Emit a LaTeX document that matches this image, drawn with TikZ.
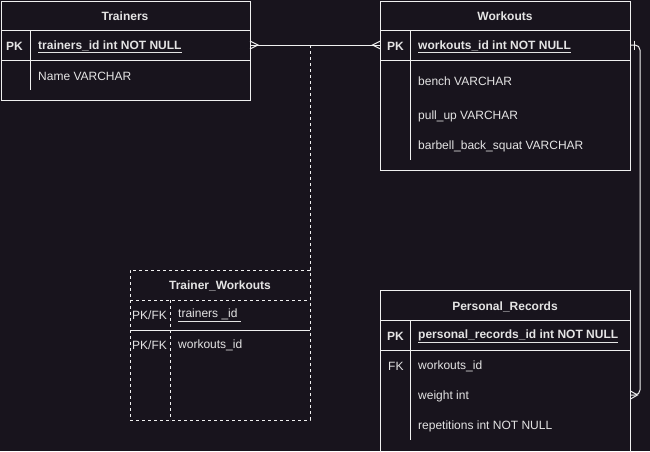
\documentclass[tikz,border=0pt]{standalone}
\usepackage{fontspec}
\setmainfont{Liberation Sans}
\definecolor{bg}{HTML}{18141D}
\definecolor{linec}{HTML}{F0F0F0}
\definecolor{txt}{HTML}{E4E4E4}
\begin{document}
\begin{tikzpicture}[x=1pt,y=-1pt,
  tbl/.style={draw=linec, line width=1pt, inner sep=0pt, outer sep=0pt, anchor=north west},
  rowbox/.style={inner sep=0pt, outer sep=0pt, anchor=north west, minimum height=30pt},
  lbl/.style={text=txt, inner sep=0pt, anchor=west, font=\fontsize{12}{14}\selectfont, yshift=-1pt},
  blbl/.style={lbl, font=\fontsize{12}{14}\selectfont\bfseries},
  hdr/.style={text=txt, inner sep=0pt, anchor=center, font=\fontsize{12}{14}\selectfont\bfseries, yshift=-1pt},
  sep/.style={draw=linec, line width=1pt},
  dsep/.style={draw=linec, line width=1pt, dash pattern=on 3pt off 3pt},
  conn/.style={draw=linec, line width=1pt},
  dconn/.style={draw=linec, line width=1pt, dash pattern=on 3pt off 3pt}
]
\useasboundingbox (0,0) rectangle (650,451);
\fill[bg] (0,0) rectangle (650,451);
\clip (0,0) rectangle (650,451);

% ---------- Trainers ----------
\node[tbl, minimum width=249pt, minimum height=99pt] (trainers) at (1,1) {};
\node[rowbox, minimum width=249pt] (trainersPK) at (1,30) {};
\draw[sep] (1,30) -- (250,30);
\draw[sep] (1,60) -- (250,60);
\draw[sep] (30,30) -- (30,90);
\node[hdr] (trainersT) at (125,15.5) {Trainers};
\node[blbl] (trainersPKk) at (6,45.5) {PK};
\node[blbl] (trainersPKf) at (38,45.5) {\underline{trainers\_id int NOT NULL}};
\node[lbl] (trainersName) at (38,75.5) {Name VARCHAR};

% ---------- Workouts ----------
\node[tbl, minimum width=250pt, minimum height=169pt] (workouts) at (380.5,1) {};
\node[rowbox, minimum width=250pt] (workoutsPK) at (380.5,30) {};
\draw[sep] (380.5,30) -- (630.5,30);
\draw[sep] (380.5,60) -- (630.5,60);
\draw[sep] (410,30) -- (410,160);
\node[hdr] (workoutsT) at (505,15.5) {Workouts};
\node[blbl] (workoutsPKk) at (387,45.5) {PK};
\node[blbl] (workoutsPKf) at (418,45.5) {\underline{workouts\_id int NOT NULL}};
\node[lbl] (workoutsB) at (418,80.5) {bench VARCHAR};
\node[lbl] (workoutsP) at (418,115.5) {pull\_up VARCHAR};
\node[lbl] (workoutsS) at (418,145.5) {barbell\_back\_squat VARCHAR};

% ---------- Trainer_Workouts ----------
\node[tbl, dash pattern=on 3pt off 3pt, minimum width=180pt, minimum height=150pt] (tw) at (130,270) {};
\draw[dsep] (130,300) -- (310,300);
\draw[sep] (130,330) -- (310,330);
\draw[dsep] (170,300) -- (170,420);
\node[hdr] (twT) at (220,284.5) {Trainer\_Workouts};
\node[lbl] (twK1) at (132,314.5) {PK/FK};
\node[lbl] (twF1) at (178,314.5) {\underline{trainers \_id\ }};
\node[lbl] (twK2) at (132,344.5) {PK/FK};
\node[lbl] (twF2) at (178,344.5) {workouts\_id};

% ---------- Personal_Records ----------
\node[tbl, minimum width=250pt, minimum height=175pt] (pr) at (380.5,290) {};
\node[rowbox, minimum width=250pt] (prW) at (380.5,380) {};
\draw[sep] (380.5,320) -- (630.5,320);
\draw[sep] (380.5,350) -- (630.5,350);
\draw[sep] (410,320) -- (410,440);
\node[hdr] (prT) at (505,305.5) {Personal\_Records};
\node[blbl] (prPKk) at (387,335.5) {PK};
\node[blbl] (prPKf) at (418,335.5) {\underline{personal\_records\_id int NOT NULL}};
\node[lbl] (prFKk) at (388,365.5) {FK};
\node[lbl] (prF1) at (418,365.5) {workouts\_id};
\node[lbl] (prF2) at (418,395.5) {weight int};
\node[lbl] (prF3) at (418,425.5) {repetitions int NOT NULL};

% ---------- Connectors ----------
% Trainers -- Workouts (many to many)
\draw[conn] (trainersPK.east) -- (workoutsPK.west);
\draw[conn] ([yshift=4pt]trainersPK.east) -- ([xshift=8pt]trainersPK.east) -- ([yshift=-4pt]trainersPK.east);
\draw[conn] ([yshift=4pt]workoutsPK.west) -- ([xshift=-8pt]workoutsPK.west) -- ([yshift=-4pt]workoutsPK.west);
% Junction to Trainer_Workouts
\coordinate (junc) at (tw.north east |- trainersPK.east);
\draw[dconn] (junc) -- (tw.north east);
% Workouts -- Personal_Records (one to many)
\coordinate (rtop) at (640,45);
\coordinate (rbot) at (640,395);
\draw[conn, rounded corners=5pt] (workoutsPK.east) -- (rtop) -- (rbot) -- (prW.east);
\draw[conn] ([xshift=4pt,yshift=4.5pt]workoutsPK.east) -- ([xshift=4pt,yshift=-4.5pt]workoutsPK.east);
\draw[conn] ([yshift=4pt]prW.east) -- ([xshift=7pt]prW.east) -- ([yshift=-4pt]prW.east);
\end{tikzpicture}
\end{document}
